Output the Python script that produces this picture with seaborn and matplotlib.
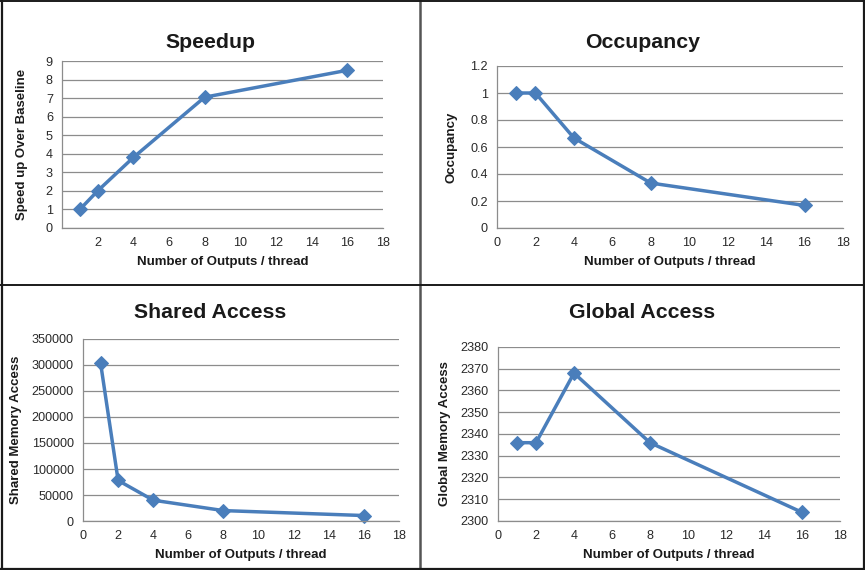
import matplotlib
matplotlib.use("Agg")
import matplotlib.pyplot as plt
from matplotlib.lines import Line2D
import numpy as np
import pandas as pd
import seaborn as sns

# Data: kernel metrics vs. number of outputs computed per thread
outputs_per_thread = [1, 2, 4, 8, 16]
speedup = [1.0, 2.0, 3.8, 7.05, 8.5]
occupancy = [1.0, 1.0, 0.667, 0.333, 0.167]
shared_access = [304000, 78000, 40000, 20000, 10500]
global_access = [2336, 2336, 2368, 2336, 2304]

titles = ["Speedup", "Occupancy", "Shared Access", "Global Access"]
ylabels = ["Speed up Over Baseline", "Occupancy",
           "Shared Memory Access", "Global Memory Access"]
xlabel = "Number of Outputs / thread"

sns.set_style("white")
plt.rcParams["font.family"] = ["Liberation Sans", "DejaVu Sans"]

W, H = 865, 570
fig = plt.figure(figsize=(W / 100, H / 100), dpi=100)

LINE = "#4a7ebb"
GRID = "#8c8c8c"
TEXT = "#1a1a1a"
TICKTXT = "#2a2a2a"


def rect(left, top, right, bottom):
    return [left / W, 1 - bottom / H, (right - left) / W, (bottom - top) / H]


panels = [
    dict(y=speedup, box=(62, 61, 383, 228), ylim=(0, 9), yticks=np.arange(0, 10, 1),
         fmt=lambda v: f"{v:g}", title_y=42, ylab_x=22, hide_x0=True),
    dict(y=occupancy, box=(497, 66, 843, 228), ylim=(0, 1.2), yticks=np.arange(0, 1.21, 0.2),
         fmt=lambda v: f"{v:g}", title_y=42, ylab_x=452, hide_x0=False),
    dict(y=shared_access, box=(83, 339, 399, 521), ylim=(0, 350000),
         yticks=np.arange(0, 350001, 50000), fmt=lambda v: f"{int(v)}",
         title_y=312, ylab_x=16, hide_x0=False),
    dict(y=global_access, box=(498, 347, 840, 521), ylim=(2300, 2380),
         yticks=np.arange(2300, 2381, 10), fmt=lambda v: f"{int(v)}",
         title_y=312, ylab_x=445, hide_x0=False),
]

for p, title, ylab in zip(panels, titles, ylabels):
    ax = fig.add_axes(rect(*p["box"]))
    df = pd.DataFrame({"x": outputs_per_thread, "y": p["y"]})
    sns.lineplot(data=df, x="x", y="y", ax=ax, color=LINE, linewidth=2.5,
                 marker="D", markersize=7, markeredgecolor=LINE,
                 markerfacecolor=LINE, clip_on=False)
    ax.set_xlim(0, 18)
    ax.set_ylim(*p["ylim"])
    ax.set_xticks(np.arange(0, 19, 2))
    xt = [f"{v}" for v in range(0, 19, 2)]
    if p["hide_x0"]:
        xt[0] = ""
    ax.set_xticklabels(xt)
    ax.set_yticks(p["yticks"])
    ax.set_yticklabels([p["fmt"](v) for v in p["yticks"]])
    ax.yaxis.grid(True, color=GRID, linewidth=0.9)
    ax.xaxis.grid(False)
    ax.set_axisbelow(True)
    for s in ("top", "right"):
        ax.spines[s].set_visible(False)
    for s in ("left", "bottom"):
        ax.spines[s].set_color(GRID)
        ax.spines[s].set_linewidth(0.9)
    ax.tick_params(axis="both", which="major", direction="out", length=3.5,
                   width=0.9, color=GRID, labelsize=9.1, labelcolor=TICKTXT, pad=3)
    ax.set_xlabel(xlabel, fontsize=9.5, fontweight="bold", color=TEXT, labelpad=5)
    ax.set_ylabel("")
    l, t, r, b = p["box"]
    fig.text(p["ylab_x"] / W, 1 - (t + b) / 2 / H, ylab, rotation=90,
             ha="center", va="center", fontsize=9.5, fontweight="bold", color=TEXT)
    pan_l = 0 if l < 420 else 420
    pan_r = 420 if l < 420 else W
    fig.text((pan_l + pan_r) / 2 / W, 1 - p["title_y"] / H, title, ha="center",
             va="center", fontsize=15.3, fontweight="bold", color=TEXT)

# Panel frames
frame = "#1a1a1a"
for (x0, y0, x1, y1, c, lw) in [
    (420, 0, 420, H, "#555555", 1.8),
    (0, 285, W, 285, frame, 1.4),
    (2, 0, 2, H, frame, 1.6),
    (0, 1, W, 1, frame, 1.4),
    (W - 1, 0, W - 1, H, frame, 1.6),
    (0, H - 1.5, W, H - 1.5, frame, 1.6),
]:
    fig.add_artist(Line2D([x0 / W, x1 / W], [1 - y0 / H, 1 - y1 / H],
                          transform=fig.transFigure, color=c, linewidth=lw))

fig.savefig("out.png", dpi=100, facecolor="white")
